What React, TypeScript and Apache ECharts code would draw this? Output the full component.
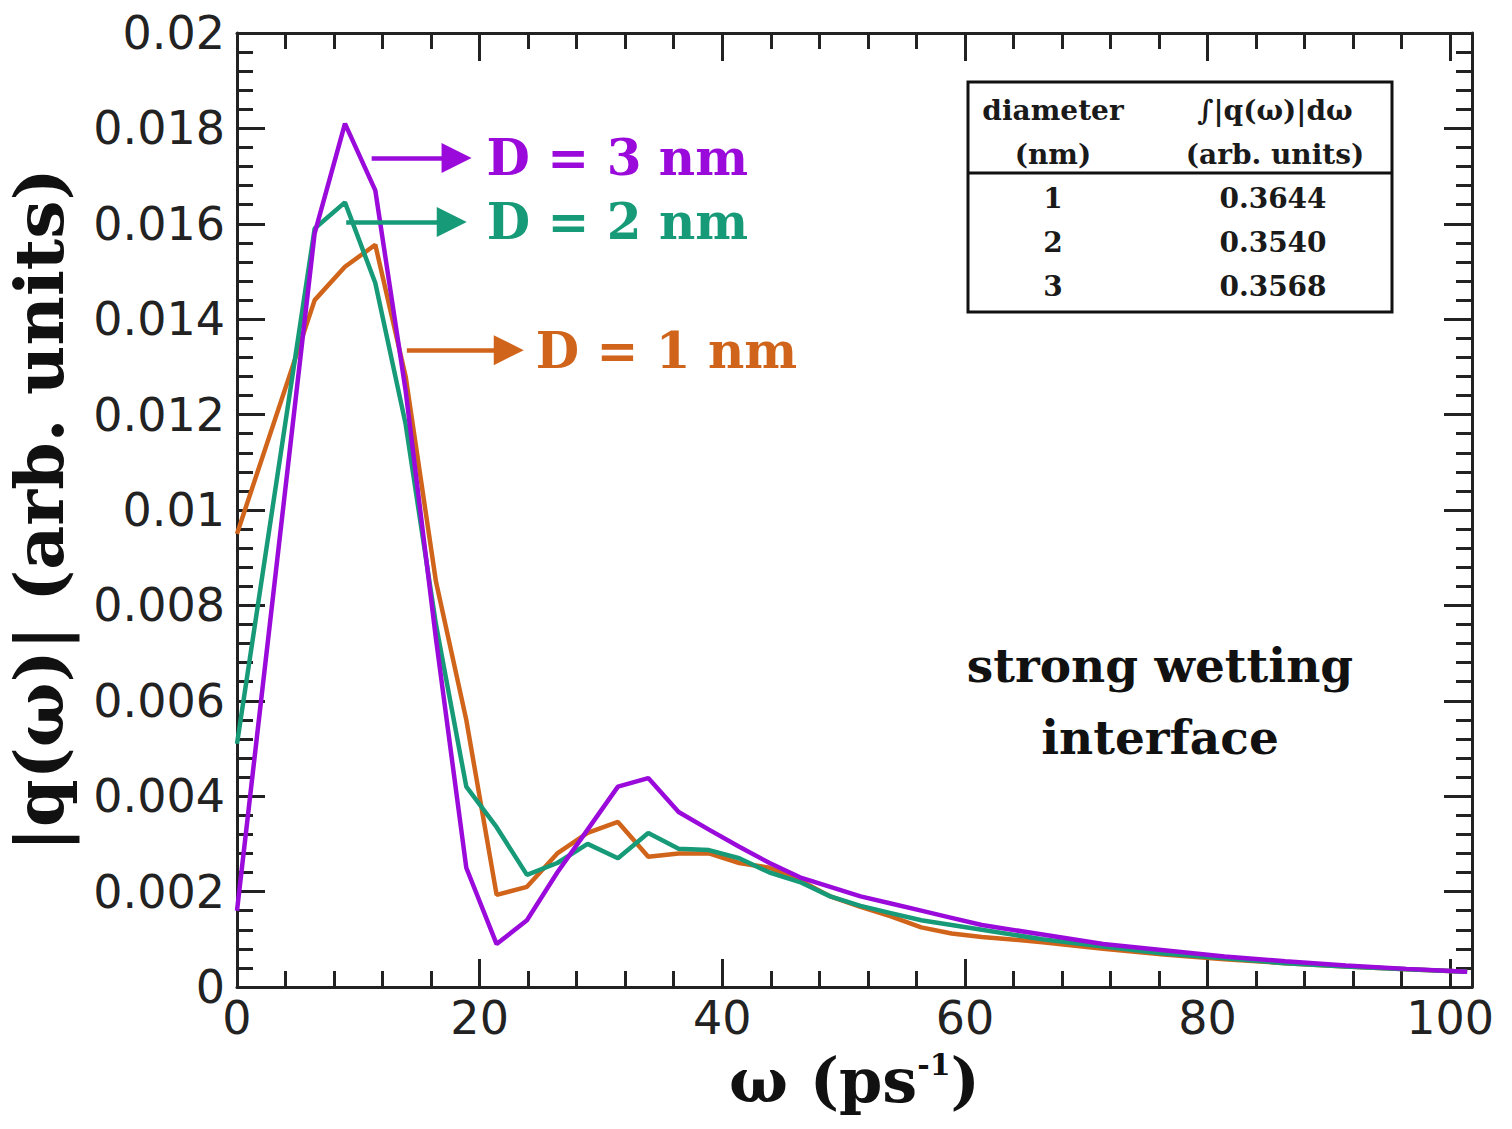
import React, { useEffect, useRef } from 'react';
import * as echarts from 'echarts';

// ω (ps^-1) sample positions
const omega = [0, 6.4, 8.9, 11.4, 13.9, 16.4, 18.9, 21.4, 23.9, 26.4, 28.9, 31.4, 33.9, 36.4, 38.9, 41.4, 43.9, 46.4, 48.9, 51.4, 53.9, 56.4, 58.9, 61.4, 66.4, 71.4, 76.4, 81.4, 86.4, 91.4, 96.4, 101.4];
// |q(ω)| for D = 3 nm
const qD3 = [0.0016, 0.0158, 0.0181, 0.0167, 0.0125, 0.0073, 0.0025, 0.0009, 0.0014, 0.0024, 0.0033, 0.0042, 0.00438, 0.00367, 0.0033, 0.00294, 0.0026, 0.0023, 0.0021, 0.0019, 0.00175, 0.0016, 0.00145, 0.0013, 0.0011, 0.0009, 0.00077, 0.00064, 0.00054, 0.00045, 0.00038, 0.00032];
// |q(ω)| for D = 2 nm
const qD2 = [0.0051, 0.0159, 0.01645, 0.01476, 0.0118, 0.0076, 0.0042, 0.00335, 0.00235, 0.0026, 0.003, 0.0027, 0.00323, 0.0029, 0.00287, 0.0027, 0.0024, 0.0022, 0.0019, 0.0017, 0.00155, 0.0014, 0.0013, 0.0012, 0.001, 0.00085, 0.0007, 0.0006, 0.0005, 0.00043, 0.00037, 0.00032];
// |q(ω)| for D = 1 nm
const qD1 = [0.0095, 0.0144, 0.0151, 0.01556, 0.0128, 0.0085, 0.0056, 0.00193, 0.0021, 0.0028, 0.00323, 0.00346, 0.00273, 0.0028, 0.0028, 0.0026, 0.0025, 0.00224, 0.0019, 0.00168, 0.00148, 0.00125, 0.00112, 0.00105, 0.00094, 0.0008, 0.00068, 0.00058, 0.0005, 0.00043, 0.00037, 0.00032];

const seriesNames = ['D = 3 nm', 'D = 2 nm', 'D = 1 nm'];
const seriesData = [qD3, qD2, qD1];
const colors = ['#9a0ada', '#179a78', '#d0641a'];

// annotation arrows (data coordinates)
const arrowFromX = [11.1, 9.0, 14.0];
const arrowToX = [18.1, 17.7, 22.4];
const arrowY = [0.01738, 0.01604, 0.01335];
const arrowLabelGap = [30, 35, 27];

// inset table
const tableHeader1 = ['diameter', '(nm)'];
const tableHeader2 = ['\u222B|q(\u03C9)|d\u03C9', '(arb. units)'];
const tableDiameter = ['1', '2', '3'];
const tableIntegral = ['0.3644', '0.3540', '0.3568'];

const noteLines = ['strong wetting', 'interface'];

const SERIF = '"DejaVu Serif", serif';
const SANS = '"DejaVu Sans", sans-serif';
const AX = '#222';

export default function App() {
  const ref = useRef<HTMLDivElement>(null);
  useEffect(() => {
    if (!ref.current) return;
    const chart = echarts.init(ref.current, undefined, { renderer: 'svg' });

    const axisCommon = {
      type: 'value' as const,
      axisLine: { show: true, onZero: false, lineStyle: { color: AX, width: 3 } },
      axisTick: { show: true, inside: true, length: 28, lineStyle: { color: AX, width: 3 } },
      minorTick: { show: true, splitNumber: 5, length: 16, lineStyle: { color: AX, width: 3 } },
      splitLine: { show: false },
      minorSplitLine: { show: false },
    };

    const series: any[] = seriesNames.map((name, i) => ({
      name,
      type: 'line',
      data: omega.map((x, k) => [x, seriesData[i][k]]),
      showSymbol: false,
      symbol: 'none',
      lineStyle: { color: colors[i], width: 4.5 },
      itemStyle: { color: colors[i] },
      z: 3 - i,
      markLine: {
        silent: true,
        symbol: ['none', 'triangle'],
        symbolSize: 30,
        itemStyle: { color: colors[i] },
        lineStyle: { color: colors[i], width: 4.5, type: 'solid' },
        label: {
          show: true,
          position: 'end',
          distance: arrowLabelGap[i],
          formatter: name,
          color: colors[i],
          fontFamily: SERIF,
          fontWeight: 'bold',
          fontSize: 50,
        },
        data: [[{ coord: [arrowFromX[i], arrowY[i]] }, { coord: [arrowToX[i], arrowY[i]] }]],
      },
    }));

    const tX = 968, tY = 82, tW = 424, tH = 230, sepY = 173;
    const c1 = 1053, c2 = 1275;
    const tableFont = { fontFamily: SERIF, fontWeight: 'bold', fontSize: 28, fill: '#1a1a1a', textAlign: 'center', textVerticalAlign: 'middle' };
    const graphic: any[] = [
      { type: 'rect', shape: { x: tX, y: tY, width: tW, height: tH }, style: { fill: '#fff', stroke: '#111', lineWidth: 3 }, z: 10 },
      { type: 'line', shape: { x1: tX, y1: sepY, x2: tX + tW, y2: sepY }, style: { stroke: '#111', lineWidth: 3 }, z: 11 },
      { type: 'text', x: c1, y: 110, style: { ...tableFont, text: tableHeader1[0] }, z: 11 },
      { type: 'text', x: c1, y: 154, style: { ...tableFont, text: tableHeader1[1] }, z: 11 },
      { type: 'text', x: c2, y: 110, style: { ...tableFont, text: tableHeader2[0] }, z: 11 },
      { type: 'text', x: c2, y: 154, style: { ...tableFont, text: tableHeader2[1] }, z: 11 },
      ...tableDiameter.map((d, i) => ({ type: 'text', x: c1, y: 198 + i * 44, style: { ...tableFont, text: d }, z: 11 })),
      ...tableIntegral.map((v, i) => ({ type: 'text', x: c2 - 2, y: 198 + i * 44, style: { ...tableFont, text: v }, z: 11 })),
      ...noteLines.map((t, i) => ({
        type: 'text', x: 1160, y: 665 + i * 72,
        style: { text: t, fontFamily: SERIF, fontWeight: 'bold', fontSize: 47, fill: '#111', textAlign: 'center', textVerticalAlign: 'middle' },
        z: 11,
      })),
    ];

    chart.setOption({
      animation: false,
      backgroundColor: '#fff',
      grid: { left: 237, right: 40, top: 33, bottom: 142, containLabel: false, outerBoundsMode: 'none' },
      xAxis: [
        {
          ...axisCommon,
          position: 'bottom',
          min: 0,
          max: 101.8,
          interval: 20,
          axisLabel: {
            show: true,
            margin: 8,
            color: AX,
            fontFamily: SANS,
            fontSize: 46,
            formatter: (v: number) => (Math.abs(v % 20) < 1e-9 ? String(v) : ''),
          },
          name: '\u03C9 (ps{sup|-1})',
          nameLocation: 'middle',
          nameGap: 62,
          nameTextStyle: {
            fontFamily: SERIF,
            fontWeight: 'bold',
            fontSize: 62,
            color: '#111',
            rich: {
              sup: { fontFamily: SERIF, fontWeight: 'bold', fontSize: 30, color: '#111', verticalAlign: 'top', padding: [0, 0, 26, 0] },
            },
          },
        },
        {
          ...axisCommon,
          position: 'top',
          min: 0,
          max: 101.8,
          interval: 20,
          axisLabel: { show: false },
        },
      ],
      yAxis: [
        {
          ...axisCommon,
          position: 'left',
          min: 0,
          max: 0.02,
          interval: 0.002,
          axisLabel: {
            show: true,
            margin: 12,
            color: AX,
            fontFamily: SANS,
            fontSize: 46,
            formatter: (v: number) => (v === 0 ? '0' : String(parseFloat(v.toFixed(3)))),
          },
          name: '|q(\u03C9)| (arb. units)',
          nameLocation: 'middle',
          nameRotate: 90,
          nameGap: 164,
          nameTextStyle: { fontFamily: SERIF, fontWeight: 'bold', fontSize: 68, color: '#111' },
        },
        {
          ...axisCommon,
          position: 'right',
          min: 0,
          max: 0.02,
          interval: 0.002,
          axisLabel: { show: false },
        },
      ],
      series,
      graphic,
    });

    return () => chart.dispose();
  }, []);

  return <div ref={ref} style={{ position: 'fixed', left: 0, top: 0, width: 1512, height: 1129 }} />;
}
